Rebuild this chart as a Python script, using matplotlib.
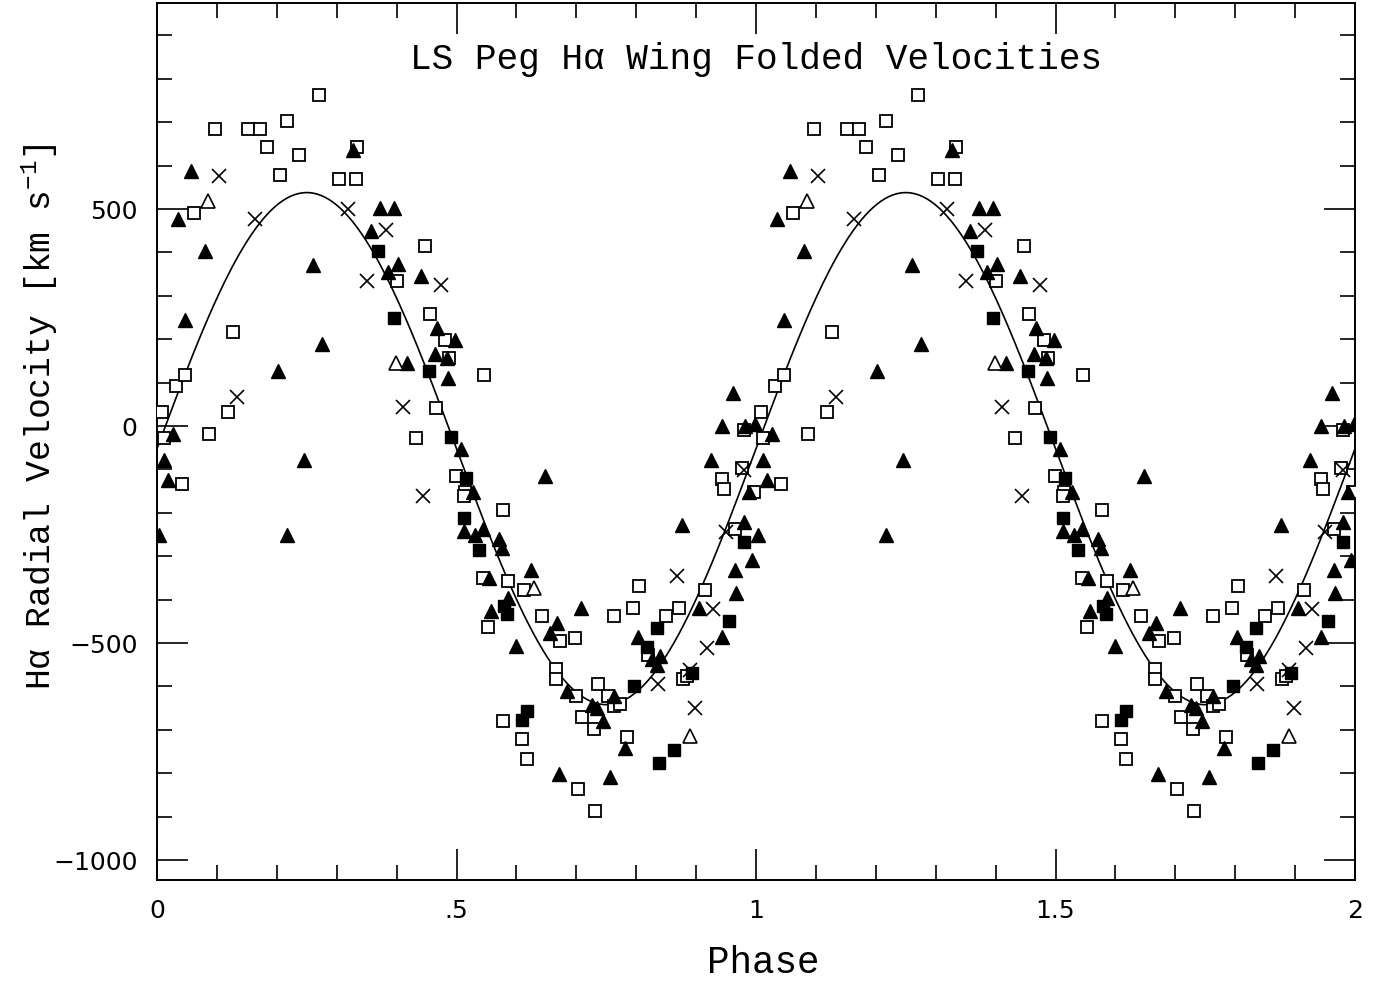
import matplotlib
matplotlib.use("Agg")
import matplotlib.pyplot as plt
import numpy as np
from matplotlib.ticker import MultipleLocator, FixedLocator, FixedFormatter

plt.rcParams['font.family'] = ['Liberation Mono', 'DejaVu Sans']
plt.rcParams['mathtext.fontset'] = 'custom'
plt.rcParams['mathtext.rm'] = 'Liberation Mono'
plt.rcParams['mathtext.it'] = 'Liberation Mono:italic'
plt.rcParams['mathtext.default'] = 'regular'

# phase (0-1), velocity km/s -- open squares
sq_open_ph = [0.009, 0.012, 0.031, 0.046, 0.041, 0.062, 0.086, 0.096, 0.119, 0.127,
              0.152, 0.172, 0.184, 0.205, 0.217, 0.237, 0.270, 0.303, 0.333, 0.334,
              0.401, 0.448, 0.455, 0.466, 0.481, 0.488, 0.432, 0.499, 0.514, 0.5125,
              0.546, 0.578, 0.5435, 0.5865, 0.612, 0.643, 0.553, 0.673, 0.698, 0.578,
              0.610, 0.618, 0.666, 0.666, 0.6995, 0.709, 0.730, 0.737, 0.7535, 0.763,
              0.773, 0.785, 0.7035, 0.731, 0.7634, 0.795, 0.805, 0.8497, 0.8706, 0.8776,
              0.884, 0.915, 0.820, 0.943, 0.9466, 0.965, 0.976, 0.980, 0.9966]
sq_open_v = [32, -28, 92, 118, -134, 492, -19, 684, 32, 216,
             684, 684, 643, 578, 703, 625, 763, 569, 569, 644,
             334, 414, 258, 41, 198, 156, -28, -115, -152, -161,
             118, -194, -350, -358, -378, -437, -464, -496, -488, -680,
             -721, -767, -559, -584, -621, -670, -698, -594, -621, -644,
             -640, -717, -837, -887, -437, -419, -368, -437, -419, -584,
             -577, -377, -528, -123, -146, -238, -96, -10, -152]

# filled triangles
tri_fill_ph = [0.003, 0.011, 0.019, 0.026, 0.035, 0.047, 0.057, 0.080, 0.2015, 0.2165,
               0.245, 0.260, 0.2755, 0.3267, 0.357, 0.372, 0.396, 0.386, 0.402, 0.418,
               0.4407, 0.4636, 0.468, 0.4836, 0.485, 0.497, 0.508, 0.527, 0.5125, 0.531,
               0.544, 0.571, 0.5765, 0.5535, 0.557, 0.5865, 0.600, 0.624, 0.648, 0.656,
               0.667, 0.671, 0.685, 0.7073, 0.7257, 0.735, 0.744, 0.757, 0.763, 0.7807,
               0.8024, 0.826, 0.840, 0.835, 0.876, 0.905, 0.925, 0.943, 0.943, 0.962,
               0.9655, 0.966, 0.9805, 0.982, 0.989, 0.9928, 0.998]
tri_fill_v = [-251, -78, -125, -19, 478, 244, 588, 403, 128, -251,
              -78, 372, 188, 636, 450, 502, 502, 355, 373, 146,
              346, 165, 225, 156, 111, 198, -54, -152, -241, -251,
              -238, -261, -281, -350, -427, -396, -507, -331, -115, -477,
              -454, -801, -611, -419, -642, -650, -680, -809, -621, -742,
              -487, -537, -531, -551, -229, -419, -78, 0, -487, 77,
              -332, -385, -221, 0, -152, -309, 5]

# crosses
cross_ph = [0.103, 0.133, 0.1636, 0.3189, 0.351, 0.382, 0.411, 0.4436, 0.4736, 0.837,
            0.8676, 0.890, 0.898, 0.9187, 0.9288, 0.950, 0.9805]
cross_v = [577, 68, 476, 500, 334, 452, 45, -161, 325, -594,
           -346, -561, -650, -511, -421, -244, -101]

# filled squares
sq_fill_ph = [0.3695, 0.396, 0.4546, 0.491, 0.516, 0.513, 0.538, 0.579, 0.584, 0.617,
              0.610, 0.7963, 0.834, 0.8175, 0.8926, 0.8636, 0.8386, 0.9555, 0.9805]
sq_fill_v = [404, 248, 128, -25, -119, -211, -286, -415, -432, -657,
             -677, -598, -465, -509, -570, -746, -777, -450, -267]

# open triangles
tri_open_ph = [0.0846, 0.3985, 0.629, 0.890]
tri_open_v = [519, 146, -373, -714]

# sine fit
gamma = -52.0
K = 590.0

fig = plt.figure(figsize=(13.81, 9.83), dpi=100)
ax = fig.add_axes([0.1137, 0.1048, 0.8675, 0.8922])

def twice(ph, v):
    ph = np.asarray(ph)
    v = np.asarray(v)
    return np.concatenate([ph, ph + 1]), np.concatenate([v, v])

x, y = twice(sq_open_ph, sq_open_v)
ax.plot(x, y, 's', ms=9, mfc='white', mec='black', mew=1.3, zorder=3)
x, y = twice(tri_fill_ph, tri_fill_v)
ax.plot(x, y, '^', ms=10, mfc='black', mec='black', mew=1.0, zorder=3)
x, y = twice(cross_ph, cross_v)
ax.plot(x, y, 'x', ms=10, mec='black', mew=1.2, zorder=3)
x, y = twice(sq_fill_ph, sq_fill_v)
ax.plot(x, y, 's', ms=9, mfc='black', mec='black', mew=1.0, zorder=3)
x, y = twice(tri_open_ph, tri_open_v)
ax.plot(x, y, '^', ms=10, mfc='white', mec='black', mew=1.2, zorder=3)

t = np.linspace(0, 2, 600)
ax.plot(t, gamma + K*np.sin(2*np.pi*t), '-', color='black', lw=1.2, zorder=2)

ax.set_xlim(0, 2)
ax.set_ylim(-1046, 975)

ax.xaxis.set_major_locator(FixedLocator([0, 0.5, 1, 1.5, 2]))
ax.xaxis.set_major_formatter(FixedFormatter(['0', '.5', '1', '1.5', '2']))
ax.xaxis.set_minor_locator(MultipleLocator(0.1))
ax.yaxis.set_major_locator(FixedLocator([-1000, -500, 0, 500]))
ax.yaxis.set_major_formatter(FixedFormatter(['\u22121000', '\u2212500', '0', '500']))
ax.yaxis.set_minor_locator(MultipleLocator(100))

ax.tick_params(which='both', direction='in', top=True, right=True, width=1.2,
               labelsize=18)
ax.tick_params(axis='x', which='major', pad=14)
ax.tick_params(axis='y', which='major', pad=14)
ax.tick_params(which='major', length=22)
ax.tick_params(which='minor', length=11)
for lab in ax.get_xticklabels() + ax.get_yticklabels():
    lab.set_family('DejaVu Sans')
for s in ax.spines.values():
    s.set_linewidth(1.4)

fig.text(763/1381, 1 - 963/983, 'Phase', ha='center', va='center', fontsize=27)
fig.text(40/1381, 1 - 417/983, 'H\u03b1 Radial Velocity [km s$^{-1}$]',
         ha='center', va='center', rotation=90, fontsize=25)
ax.text(0.5, 0.935, 'LS Peg H\u03b1 Wing Folded Velocities', transform=ax.transAxes,
        ha='center', va='center', fontsize=26)

fig.savefig('out.png', dpi=100)
